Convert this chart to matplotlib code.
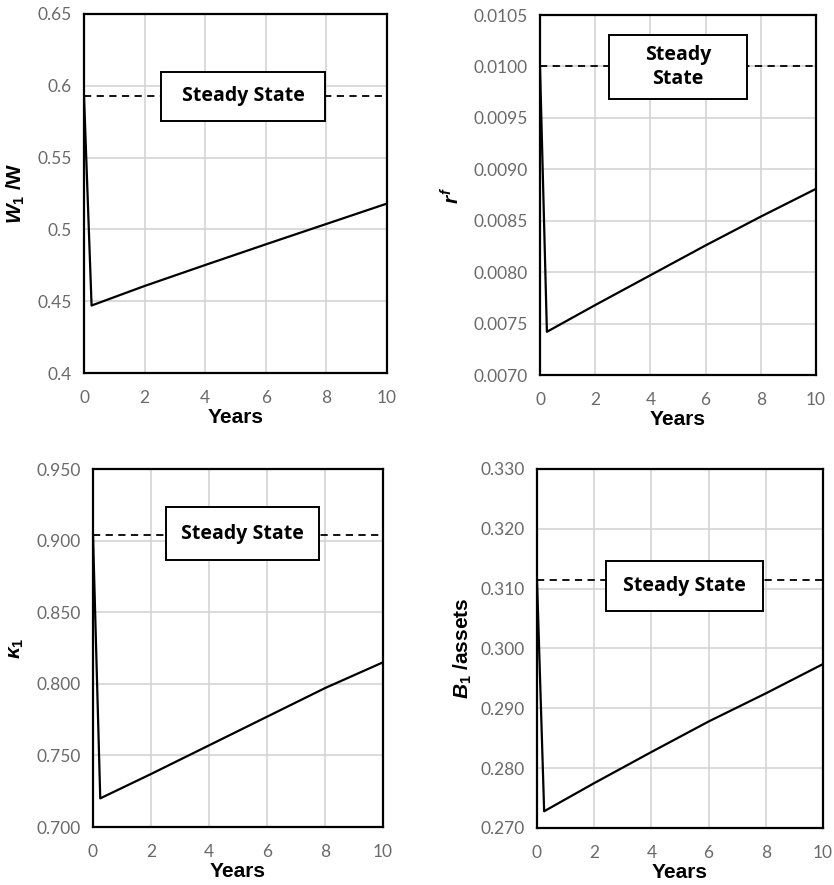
import numpy as np
import matplotlib
matplotlib.use("Agg")
import matplotlib.pyplot as plt
from matplotlib.patches import Rectangle

plt.rcParams['mathtext.fontset'] = 'custom'
plt.rcParams['mathtext.it'] = 'Liberation Sans:bold:italic'
plt.rcParams['mathtext.rm'] = 'Liberation Sans:bold'
plt.rcParams['mathtext.bf'] = 'Liberation Sans:bold'

# simulated paths after the shock (years)
years = [0, 0.25, 2, 4, 6, 8, 10]

w1_share = [0.593, 0.447, 0.4606, 0.4752, 0.4896, 0.5038, 0.518]
w1_ss = 0.593

rf = [0.0100, 0.00742, 0.00768, 0.00797, 0.00826, 0.00854, 0.00881]
rf_ss = 0.0100

kappa1 = [0.904, 0.720, 0.737, 0.757, 0.777, 0.797, 0.815]
kappa1_ss = 0.904

b1_assets = [0.3115, 0.2728, 0.2775, 0.2827, 0.2878, 0.2925, 0.2974]
b1_ss = 0.3115

W, H = 834, 885
fig = plt.figure(figsize=(W / 100, H / 100), dpi=100)

gray = '#6a6a6a'


def panel(rect_px, y, ss, ylim, yticks, yfmt, ylabel, box_px, box_text, ylab_x):
    l, t, r, b = rect_px
    ax = fig.add_axes([l / W, 1 - b / H, (r - l) / W, (b - t) / H])
    ax.plot(years, y, color='black', lw=1.6)
    ax.axhline(ss, color='black', ls=(0, (4, 3)), lw=1.3)
    ax.set_xlim(0, 10)
    ax.set_ylim(*ylim)
    ax.set_xticks(range(0, 11, 2))
    ax.set_yticks(yticks)
    ax.set_yticklabels([yfmt.format(v) for v in yticks])
    ax.grid(True, color='#d4d4d4', lw=1.2)
    ax.set_axisbelow(True)
    for s in ax.spines.values():
        s.set_linewidth(1.6)
    ax.tick_params(length=0, labelsize=12.5, labelcolor=gray)
    ax.tick_params(axis='x', pad=12)
    ax.tick_params(axis='y', pad=9)
    for lab in ax.get_xticklabels() + ax.get_yticklabels():
        lab.set_family('Lato')
    ax.set_xlabel('Years', fontsize=15, fontweight='bold',
                  family='Liberation Sans', labelpad=2)
    ax.set_ylabel(ylabel, fontsize=15, fontweight='bold',
                  family='Liberation Sans')
    ax.yaxis.set_label_coords((ylab_x - l) / (r - l), 0.5)

    # text box, given in figure pixels
    bx0, by0, bx1, by1 = box_px
    ax.add_patch(Rectangle((bx0 / W, 1 - by1 / H), (bx1 - bx0) / W, (by1 - by0) / H,
                           transform=fig.transFigure, fc='white', ec='black',
                           lw=1.4, zorder=5, clip_on=False))
    ax.text((bx0 + bx1) / 2 / W, 1 - (by0 + by1) / 2 / H, box_text,
            transform=fig.transFigure, ha='center', va='center',
            fontsize=14, fontweight='bold', family='Open Sans',
            linespacing=1.25, zorder=6)
    return ax


panel((84, 14, 387, 373), w1_share, w1_ss, (0.4, 0.65),
      [0.4, 0.45, 0.5, 0.55, 0.6, 0.65], '{:g}', r'$W_1$ /W',
      (161, 72, 325, 121), 'Steady State', 27)

panel((540, 15, 816, 375), rf, rf_ss, (0.0070, 0.0105),
      list(np.arange(0.0070, 0.01051, 0.0005)), '{:.4f}', r'$r^f$',
      (609, 35, 747, 99), 'Steady\nState', 464)

panel((93, 469, 383, 827), kappa1, kappa1_ss, (0.70, 0.95),
      [0.70, 0.75, 0.80, 0.85, 0.90, 0.95], '{:.3f}', r'$\kappa_1$',
      (166, 507, 319, 560), 'Steady State', 26)

panel((537, 469, 823, 828), b1_assets, b1_ss, (0.27, 0.33),
      list(np.arange(0.27, 0.3301, 0.01)), '{:.3f}', r'$B_1$ /assets',
      (606, 561, 763, 611), 'Steady State', 474)

fig.savefig('out.png', dpi=100)
